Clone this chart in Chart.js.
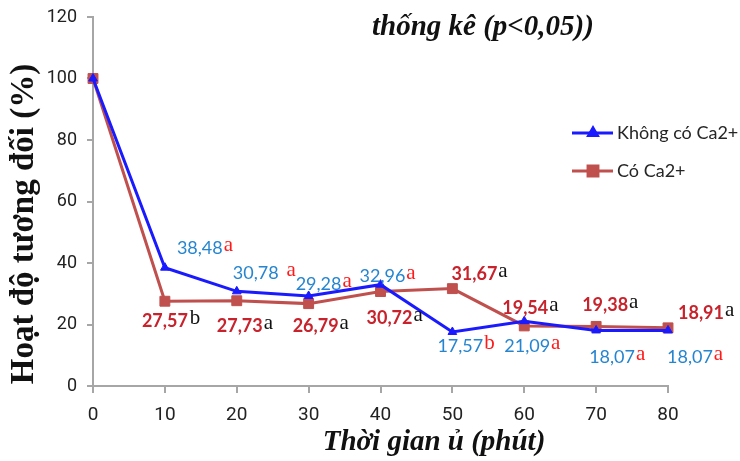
<!DOCTYPE html>
<html><head><meta charset="utf-8">
<script src="https://cdn.jsdelivr.net/npm/chart.js@4"></script>
<style>html,body{margin:0;padding:0;background:#fff}canvas{display:block}</style>
</head><body>
<canvas id="c" width="740" height="461"></canvas>
<script>
// Relative enzyme activity over incubation time, with and without Ca2+
const minutes = [0, 10, 20, 30, 40, 50, 60, 70, 80];
const withoutCa = [100, 38.48, 30.78, 29.28, 32.96, 17.57, 21.09, 18.07, 18.07];
const withCa = [100, 27.57, 27.73, 26.79, 30.72, 31.67, 19.54, 19.38, 18.91];
const withoutCaLetters = ['', 'a', 'a', 'a', 'a', 'b', 'a', 'a', 'a'];
const withCaLetters = ['', 'b', 'a', 'a', 'a', 'a', 'a', 'a', 'a'];
const seriesNames = ['Không có Ca2+', 'Có Ca2+'];
const yTitle = 'Hoạt độ tương đối (%)';
const xTitle = 'Thời gian ủ (phút)';
const topNote = 'thống kê (p<0,05))';

// label placement around each point: [dx, dy, gap before letter]
const withoutCaLabelPos = [null, [12, -20, 1], [-4, -18, 8], [-13, -12, 1], [-21, -9, 1], [-15, 14, 1], [-20, 25, 1], [-7, 27, 1], [-1, 27, 1]];
const withCaLabelPos = [null, [-23, 20, 2], [-20, 25, 1], [-16, 22, 1], [-14, 26, 1], [-1, -15, 1], [-22, -18, 1], [-14, -21, 1], [10, -15, 1]];

const BLUE = '#1a1aff';
const RED = '#c0504d';
const AXIS = '#a6a6a6';
const TICK_FONT = "Roboto, 'Liberation Sans', sans-serif";
const SERIF = "'Liberation Serif', 'DejaVu Serif', serif";
const LABEL_FONT = "Lato, 'Open Sans', sans-serif";

const fmt = v => v.toFixed(2).replace('.', ',');

const valueLabels = {
  id: 'valueLabels',
  afterDatasetsDraw(chart) {
    const ctx = chart.ctx;
    const xs = chart.scales.x, ys = chart.scales.y;
    const groups = [
      { vals: withoutCa, letters: withoutCaLetters, pos: withoutCaLabelPos, numColor: '#2585d0', numWeight: '', letColor: '#ff1a1a' },
      { vals: withCa, letters: withCaLetters, pos: withCaLabelPos, numColor: '#c8232c', numWeight: 'bold ', letColor: '#111111' }
    ];
    ctx.save();
    ctx.textAlign = 'left';
    ctx.textBaseline = 'alphabetic';
    groups.forEach(g => {
      g.vals.forEach((v, i) => {
        const p = g.pos[i];
        if (!p) return;
        const px = xs.getPixelForValue(minutes[i]) + p[0];
        const base = ys.getPixelForValue(v) + p[1] + 6;
        const txt = fmt(v);
        ctx.font = g.numWeight + '18px ' + LABEL_FONT;
        ctx.fillStyle = g.numColor;
        ctx.fillText(txt, px, base);
        const w = ctx.measureText(txt).width;
        ctx.font = '21px ' + SERIF;
        ctx.fillStyle = g.letColor;
        ctx.fillText(g.letters[i], px + w + p[2], base - 3);
      });
    });
    ctx.restore();
  }
};

const decorations = {
  id: 'decorations',
  afterDraw(chart) {
    const ctx = chart.ctx;
    ctx.save();
    ctx.fillStyle = '#111';
    ctx.textBaseline = 'alphabetic';
    // note line at top
    ctx.font = 'italic bold 29px ' + SERIF;
    ctx.textAlign = 'left';
    ctx.fillText(topNote, 372, 35);
    // x title
    ctx.textAlign = 'center';
    ctx.fillText(xTitle, 434, 450);
    // y title
    ctx.translate(33, 224);
    ctx.rotate(-Math.PI / 2);
    ctx.font = 'bold 33px ' + SERIF;
    ctx.fillText(yTitle, 0, 0);
    ctx.restore();

    // legend
    ctx.save();
    const items = [
      { name: seriesNames[0], color: BLUE, style: 'triangle', r: 5, y: 133 },
      { name: seriesNames[1], color: RED, style: 'rect', r: 7, y: 171 }
    ];
    items.forEach(it => {
      ctx.strokeStyle = it.color;
      ctx.lineWidth = 3;
      ctx.beginPath();
      ctx.moveTo(572, it.y);
      ctx.lineTo(613, it.y);
      ctx.stroke();
      ctx.fillStyle = it.color;
      Chart.helpers.drawPoint(ctx, { pointStyle: it.style, radius: it.r, rotation: 0, borderWidth: 1 }, 593, it.y);
      ctx.fillStyle = '#262626';
      ctx.font = '18px ' + LABEL_FONT;
      ctx.textAlign = 'left';
      ctx.textBaseline = 'middle';
      ctx.fillText(it.name, 617, it.y);
    });
    ctx.restore();
  }
};

new Chart(document.getElementById('c'), {
  type: 'line',
  data: {
    datasets: [
      {
        label: seriesNames[0],
        data: minutes.map((m, i) => ({ x: m, y: withoutCa[i] })),
        borderColor: BLUE,
        backgroundColor: BLUE,
        borderWidth: 3,
        pointStyle: 'triangle',
        pointRadius: 5,
        pointBorderWidth: 1,
        tension: 0
      },
      {
        label: seriesNames[1],
        data: minutes.map((m, i) => ({ x: m, y: withCa[i] })),
        borderColor: RED,
        backgroundColor: RED,
        borderWidth: 3,
        pointStyle: 'rect',
        pointRadius: 7,
        pointBorderWidth: 1,
        tension: 0
      }
    ]
  },
  options: {
    responsive: false,
    animation: false,
    clip: false,
    layout: { padding: { left: 0, right: 72, top: 17, bottom: 0 } },
    plugins: { legend: { display: false }, tooltip: { enabled: false } },
    scales: {
      x: {
        type: 'linear', min: 0, max: 80,
        afterFit(s) { s.height = 75; s.paddingLeft = 0; s.paddingRight = 0; },
        afterBuildTicks(s) { s.ticks = minutes.map(v => ({ value: v })); },
        grid: { drawOnChartArea: false, drawTicks: true, tickLength: 7, color: AXIS, lineWidth: 2 },
        border: { display: true, color: AXIS, width: 2 },
        ticks: { color: '#222', font: { family: TICK_FONT, size: 19 }, padding: 11, maxRotation: 0 }
      },
      y: {
        min: 0, max: 120,
        afterFit(s) { s.width = 93; s.paddingTop = 0; s.paddingBottom = 0; },
        ticks: { stepSize: 20, color: '#222', font: { family: TICK_FONT, size: 18 }, padding: 10 },
        grid: { drawOnChartArea: false, drawTicks: true, tickLength: 6, color: AXIS, lineWidth: 2 },
        border: { display: true, color: AXIS, width: 2 }
      }
    }
  },
  plugins: [valueLabels, decorations]
});
</script>
</body></html>
